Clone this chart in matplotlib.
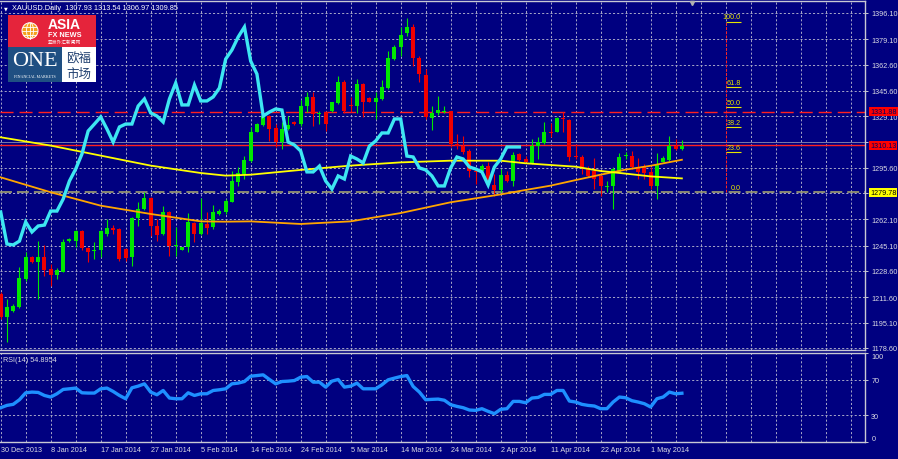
import matplotlib
matplotlib.use("Agg")
import matplotlib.pyplot as plt
from matplotlib.patches import Rectangle, Circle, Ellipse
from matplotlib.transforms import blended_transform_factory

# --- Data (XAUUSD daily, 30 Dec 2013 - 6 May 2014) ---
opens = [1213.7, 1198.5, 1202.9, 1205.0, 1223.4, 1237.5, 1234.2, 1237.9, 1229.9, 1226.0,
         1228.2, 1248.3, 1248.3, 1254.4, 1243.5, 1241.4, 1242.2, 1252.6, 1256.3, 1255.9,
         1242.9, 1237.5, 1262.8, 1268.9, 1275.8, 1258.0, 1252.6, 1266.7, 1244.6, 1242.5,
         1244.0, 1259.8, 1252.6, 1259.1, 1257.0, 1265.6, 1266.7, 1273.6, 1286.6, 1291.6,
         1300.2, 1319.0, 1323.4, 1329.0, 1321.2, 1312.1, 1320.8, 1325.5, 1324.0, 1335.5,
         1341.3, 1330.3, 1332.0, 1332.2, 1337.7, 1351.1, 1336.4, 1335.9, 1350.0, 1340.7,
         1338.1, 1340.3, 1347.4, 1366.2, 1373.8, 1382.9, 1387.2, 1366.7, 1355.8, 1327.7,
         1331.2, 1331.6, 1332.2, 1311.0, 1309.9, 1306.7, 1293.7, 1293.7, 1296.5, 1284.4,
         1281.3, 1290.9, 1287.2, 1304.5, 1301.3, 1298.7, 1309.9, 1311.6, 1318.6, 1319.0,
         1328.1, 1326.8, 1303.0, 1302.3, 1294.8, 1293.7, 1290.4, 1282.9, 1283.5, 1293.0,
         1303.0, 1303.4, 1295.8, 1295.8, 1292.6, 1283.9, 1299.5, 1300.8, 1309.9, 1307.93]
highs = [1214.8, 1210.4, 1207.2, 1231.0, 1240.7, 1238.6, 1248.3, 1245.5, 1233.2, 1230.3,
         1249.4, 1249.8, 1255.2, 1255.2, 1244.0, 1247.2, 1255.2, 1262.4, 1258.5, 1256.3,
         1243.3, 1263.5, 1273.2, 1279.7, 1276.4, 1262.4, 1270.6, 1267.6, 1257.0, 1244.4,
         1266.1, 1260.6, 1276.0, 1267.1, 1271.5, 1268.9, 1275.4, 1293.8, 1296.4, 1303.5,
         1321.9, 1324.5, 1331.6, 1329.9, 1324.0, 1325.1, 1329.0, 1326.0, 1339.8, 1344.6,
         1344.6, 1332.7, 1332.7, 1338.5, 1355.4, 1352.6, 1341.3, 1353.2, 1350.6, 1341.3,
         1344.6, 1352.8, 1371.6, 1375.3, 1386.8, 1392.6, 1389.0, 1368.4, 1359.7, 1335.9,
         1342.4, 1335.5, 1332.7, 1317.5, 1316.0, 1307.7, 1294.8, 1298.0, 1299.1, 1291.5,
         1294.8, 1293.7, 1305.6, 1305.1, 1303.0, 1314.2, 1315.3, 1325.1, 1324.4, 1328.3,
         1331.6, 1327.2, 1311.0, 1303.8, 1296.5, 1301.9, 1290.9, 1287.2, 1295.8, 1305.1,
         1305.6, 1306.7, 1301.7, 1298.0, 1295.8, 1305.1, 1303.0, 1316.0, 1314.2, 1313.54]
lows = [1197.4, 1182.3, 1201.8, 1204.5, 1222.3, 1233.8, 1210.4, 1225.6, 1218.7, 1223.4,
        1227.7, 1247.7, 1244.0, 1242.5, 1234.2, 1236.4, 1237.5, 1251.6, 1252.6, 1235.3,
        1235.3, 1232.1, 1258.0, 1268.4, 1251.6, 1248.3, 1252.0, 1238.1, 1238.6, 1242.2,
        1240.7, 1247.2, 1252.0, 1252.6, 1255.9, 1265.2, 1265.6, 1273.2, 1284.0, 1288.3,
        1299.1, 1318.6, 1322.5, 1313.2, 1308.9, 1307.8, 1320.3, 1323.4, 1322.9, 1331.6,
        1322.5, 1324.0, 1319.7, 1331.6, 1337.0, 1331.2, 1331.6, 1331.2, 1328.4, 1338.1,
        1327.3, 1339.8, 1346.8, 1365.8, 1368.4, 1381.4, 1361.9, 1351.1, 1327.3, 1320.3,
        1329.9, 1331.2, 1308.9, 1307.7, 1304.5, 1289.3, 1285.0, 1292.6, 1283.9, 1277.4,
        1279.6, 1286.1, 1283.9, 1300.2, 1299.1, 1298.0, 1301.3, 1311.0, 1315.3, 1318.6,
        1318.6, 1300.2, 1301.3, 1291.5, 1289.3, 1281.8, 1277.4, 1279.6, 1268.8, 1292.6,
        1301.3, 1294.8, 1288.3, 1288.3, 1281.8, 1275.3, 1299.1, 1300.2, 1307.3, 1306.97]
closes = [1198.5, 1205.0, 1206.1, 1224.1, 1237.5, 1234.2, 1237.9, 1229.5, 1226.0, 1229.0,
          1247.7, 1249.4, 1254.4, 1243.3, 1241.2, 1242.5, 1254.4, 1256.5, 1255.2, 1236.4,
          1236.8, 1262.8, 1268.9, 1275.8, 1258.0, 1252.0, 1266.7, 1245.1, 1245.5, 1244.0,
          1260.2, 1252.6, 1259.6, 1256.3, 1267.1, 1267.8, 1274.3, 1287.3, 1292.2, 1300.9,
          1319.0, 1323.8, 1329.4, 1320.8, 1312.1, 1320.8, 1323.6, 1323.8, 1335.5, 1341.3,
          1330.5, 1331.2, 1324.0, 1338.1, 1351.1, 1332.7, 1335.9, 1350.0, 1338.1, 1338.5,
          1340.7, 1347.8, 1366.7, 1374.2, 1381.8, 1387.2, 1366.7, 1356.5, 1328.4, 1331.2,
          1333.3, 1332.7, 1311.0, 1309.9, 1305.6, 1293.7, 1292.6, 1296.5, 1287.2, 1281.3,
          1290.9, 1287.2, 1303.8, 1300.8, 1299.5, 1309.9, 1312.5, 1318.6, 1318.1, 1327.7,
          1327.2, 1302.3, 1302.3, 1295.8, 1290.4, 1288.3, 1283.5, 1283.5, 1294.8, 1302.3,
          1303.4, 1295.8, 1292.6, 1292.2, 1283.9, 1298.0, 1301.7, 1309.9, 1307.7, 1309.85]

# overlay symbol drawn in cyan on the price scale
cyan_line = [1266.9, 1246.1, 1245.5, 1248.0, 1260.4, 1253.9, 1257.8, 1258.4, 1267.5, 1267.5,
             1275.3, 1287.0, 1294.8, 1304.5, 1319.5, 1324.0, 1328.6, 1320.8, 1312.3, 1322.1,
             1324.0, 1324.0, 1335.7, 1340.3, 1331.2, 1329.2, 1325.3, 1340.3, 1350.6, 1336.4,
             1336.4, 1349.3, 1339.0, 1339.0, 1341.6, 1347.4, 1366.2, 1372.1, 1380.5, 1387.0,
             1364.9, 1356.5, 1329.2, 1331.8, 1333.8, 1333.1, 1312.3, 1310.4, 1306.5, 1292.9,
             1292.9, 1296.7, 1287.0, 1281.8, 1290.3, 1288.3, 1303.2, 1301.3, 1298.7, 1309.7,
             1313.0, 1318.2, 1318.2, 1327.3, 1327.3, 1303.2, 1302.6, 1295.5, 1294.2, 1290.3,
             1283.8, 1283.8, 1295.5, 1302.6, 1301.3, 1296.1, 1294.8, 1292.9, 1284.4, 1296.1,
             1301.3, 1309.1, 1309.1, 1309.1]

# moving averages, read at these bars
ma_bars = [0, 8, 16, 24, 32, 36, 40, 48, 56, 64, 72, 80, 84, 88, 92, 96, 100, 104, 109]
ma_yellow = [1315.4, 1310.0, 1303.5, 1297.0, 1292.2, 1290.5, 1291.1, 1294.2, 1297.0, 1299.1,
             1300.2, 1300.2, 1298.5, 1297.4, 1296.3, 1293.5, 1291.8, 1290.0, 1288.7]
ma_orange = [1289.4, 1279.7, 1271.0, 1265.6, 1260.8, 1260.6, 1260.8, 1259.1, 1260.8, 1266.2,
             1273.2, 1278.3, 1281.2, 1284.0, 1287.6, 1291.1, 1294.4, 1296.9, 1300.8]

rsi = [38.6, 41.2, 42.4, 47.6, 55.4, 56.2, 55.8, 52.4, 50.6, 54.3,
       59.2, 59.9, 60.7, 55.4, 55.1, 55.1, 59.9, 60.7, 56.9, 52.4,
       48.7, 61.0, 62.9, 65.5, 56.2, 53.2, 58.0, 49.5, 48.7, 48.7,
       55.4, 52.4, 54.3, 54.3, 58.0, 58.8, 59.9, 65.5, 66.3, 68.1,
       74.1, 74.8, 75.6, 70.4, 65.5, 68.1, 68.5, 69.2, 73.0, 73.7,
       67.4, 67.4, 61.8, 68.5, 70.4, 61.8, 62.9, 66.3, 59.9, 59.9,
       59.9, 64.4, 70.0, 71.9, 73.7, 74.8, 62.5, 56.2, 47.6, 48.0,
       48.3, 47.0, 42.0, 40.1, 38.6, 36.0, 35.6, 37.5, 34.5, 31.9,
       36.8, 37.5, 45.7, 45.7, 44.2, 49.5, 50.2, 53.6, 53.6, 58.0,
       58.0, 46.1, 45.0, 42.4, 41.2, 40.5, 37.5, 37.5, 45.0, 50.6,
       49.8, 46.5, 45.0, 43.1, 39.4, 48.7, 50.6, 56.2, 54.3, 54.9]
rsi_levels = [30, 70]
rsi_ticks = [0, 30, 70, 100]

price_ticks = [1396.10, 1379.10, 1362.60, 1345.60, 1329.10, 1312.10, 1295.60, 1279.10,
               1262.10, 1245.10, 1228.60, 1211.60, 1195.10, 1178.60]
# these two scale labels sit under the price boxes and are not visible
hidden_ticks = [1312.10, 1279.10]
date_labels = ["30 Dec 2013", "8 Jan 2014", "17 Jan 2014", "27 Jan 2014", "5 Feb 2014",
               "14 Feb 2014", "24 Feb 2014", "5 Mar 2014", "14 Mar 2014", "24 Mar 2014",
               "2 Apr 2014", "11 Apr 2014", "22 Apr 2014", "1 May 2014"]
label_every = 8
grid_every = 4

level_dash = 1331.88
level_solid = 1310.13
fib_low = 1279.78
fib_high = 1390.5
fib_levels = [0.0, 23.6, 38.2, 50.0, 61.8, 100.0]
fib_bar = 116

header = "XAUUSD.Daily  1307.93 1313.54 1306.97 1309.85"
rsi_title = "RSI(14) 54.8954"

# --- Style ---
plt.rcParams['lines.scale_dashes'] = False
plt.rcParams['font.family'] = ['Liberation Sans', 'DejaVu Sans']
BG = '#000080'
GRID = '#a8a8c8'
SPINE = '#c8c8d4'
TXT = '#dcdce4'
BULL = '#00e800'
BEAR = '#f00000'
FS = 5.2

W, H = 898, 460
fig = plt.figure(figsize=(W / 100, H / 100), dpi=100, facecolor=BG)


def px_axes(x0, y0, x1, y1):
    # pixel box with y measured from the top
    return fig.add_axes([x0 / W, 1 - y1 / H, (x1 - x0) / W, (y1 - y0) / H])


ax = px_axes(0, 2, 865, 351)
ax_rsi = px_axes(0, 354, 865, 443)
xmax = 138.3
n = len(closes)
bars = list(range(n))
grid_x = list(range(0, int(xmax) + 1, grid_every))

# --- Price panel ---
ax.set_facecolor(BG)
ax.set_xlim(-0.11, xmax)
ax.set_ylim(1177.27, 1403.89)

colors = [BULL if c >= o else BEAR for o, c in zip(opens, closes)]
ax.vlines(bars, lows, highs, colors=colors, lw=0.8, zorder=3)
bottoms = [min(o, c) for o, c in zip(opens, closes)]
heights = [max(abs(c - o), 0.7) for o, c in zip(opens, closes)]
ax.bar(bars, heights, bottom=bottoms, width=0.62, color=colors, lw=0, zorder=3)

ax.plot(ma_bars, ma_orange, color='#ffa500', lw=1.3, zorder=4)
ax.plot(ma_bars, ma_yellow, color='#ffff00', lw=1.3, zorder=4)
ax.plot(range(len(cyan_line)), cyan_line, color='#3ee6f2', lw=2.4, zorder=5,
        solid_joinstyle='miter')

ax.axhline(level_dash, color='#ff2020', lw=1.0, dashes=(9.4, 4.3), zorder=2)
ax.axhline(1312.10, color='#7878a8', lw=0.7, zorder=2)
ax.axhline(level_solid, color='#ff2020', lw=1.0, zorder=2)
ax.axhline(fib_low, color='#a0a070', lw=1.2, dashes=(8.6, 3.6), zorder=2)

# fibonacci retracement
fib_rng = fib_high - fib_low
ax.vlines(fib_bar, fib_low, fib_high, colors='#ff2020', lw=0.7,
          linestyles=(0, (2, 1)), zorder=2)
for lv in fib_levels:
    p = fib_low + lv / 100 * fib_rng
    if lv > 0:
        ax.hlines(p, fib_bar, fib_bar + 2.4, colors='#e6e600', lw=0.8, zorder=3)
    ax.text(fib_bar + 2.4, p + 0.8, f"{lv:.1f}", color='#e6e600', fontsize=FS,
            ha='right', va='bottom', zorder=6)

ax.set_yticks(price_ticks)
ax.set_yticklabels(["" if t in hidden_ticks else f"{t:.2f}" for t in price_ticks])
ax.yaxis.tick_right()
ax.tick_params(axis='y', length=2.5, width=0.7, color=SPINE, labelcolor=TXT,
               labelsize=FS, pad=2)
ax.set_xticks(grid_x)
ax.tick_params(axis='x', length=0, labelbottom=False)
ax.grid(True, color=GRID, lw=0.7, linestyle=(0, (1.5, 1.5)), zorder=1)
ax.set_axisbelow(True)

for side, sp in ax.spines.items():
    sp.set_color(SPINE)
    sp.set_linewidth(1.0)
ax.spines['left'].set_visible(False)

# price boxes on the right scale
tr = blended_transform_factory(ax.transAxes, ax.transData)
for val, fc, tc in [(level_dash, '#ff0000', '#000060'),
                    (level_solid, '#ff0000', '#000060'),
                    (fib_low, '#ffff00', '#000000')]:
    ax.text(870 / 865, val, f"{val:.2f}", transform=tr, color=tc, fontsize=FS,
            ha='left', va='center', clip_on=False, zorder=10,
            bbox=dict(boxstyle='square,pad=0.14', fc=fc, ec='none'))

# --- RSI panel ---
ax_rsi.set_facecolor(BG)
ax_rsi.set_xlim(-0.11, xmax)
ax_rsi.set_ylim(0.5, 100.2)
ax_rsi.plot(bars, rsi, color='#1e90ff', lw=2.4, zorder=4)
for lv in rsi_levels:
    ax_rsi.axhline(lv, color=GRID, lw=0.7, linestyle=(0, (1.5, 1.5)), zorder=1)

ax_rsi.set_xticks(grid_x)
xt = []
for b in grid_x:
    k = b // label_every
    xt.append(date_labels[k] if b % label_every == 0 and k < len(date_labels) else "")
ax_rsi.set_xticklabels(xt)
ax_rsi.tick_params(axis='x', length=0, labelcolor=TXT, labelsize=FS, pad=3)
for lbl in ax_rsi.get_xticklabels():
    lbl.set_horizontalalignment('left')
ax_rsi.grid(True, axis='x', color=GRID, lw=0.7, linestyle=(0, (1.5, 1.5)), zorder=1)

ax_rsi.set_yticks(rsi_ticks)
ax_rsi.set_yticklabels([str(t) for t in rsi_ticks])
ax_rsi.yaxis.tick_right()
ax_rsi.tick_params(axis='y', length=2.5, width=0.7, color=SPINE, labelcolor=TXT,
                   labelsize=FS, pad=2)
ylbls = ax_rsi.get_yticklabels()
ylbls[0].set_verticalalignment('bottom')
ylbls[-1].set_verticalalignment('top')
for side, sp in ax_rsi.spines.items():
    sp.set_color(SPINE)
    sp.set_linewidth(1.0)
ax_rsi.spines['left'].set_visible(False)

# --- Overlay: header text and logo, in pixel units ---
ov = fig.add_axes([0, 0, 1, 1])
ov.set_xlim(0, W)
ov.set_ylim(H, 0)
ov.axis('off')

ov.text(4, 8.5, "\u25bc", color='white', fontsize=3.5, ha='left', va='center',
        family=['DejaVu Sans'])
ov.text(11.5, 8.5, header, color='white', fontsize=5.3, ha='left', va='center')
ov.text(3, 360.5, rsi_title, color=TXT, fontsize=FS, ha='left', va='center')
ov.plot([692], [3.5], marker='v', ms=3, color='#b0b0b0', lw=0)

ov.add_patch(Rectangle((8.3, 16), 87.7, 32.3, fc='#e5243b', ec='none'))
ov.add_patch(Rectangle((8.3, 48.3), 53.7, 34.4, fc='#1f4f82', ec='none'))
ov.add_patch(Rectangle((62, 48.3), 34, 34.4, fc='white', ec='none'))

globe = Circle((30, 31.7), 8, fc='#f4a11d', ec='white', lw=0.7)
ov.add_patch(globe)
mer = Ellipse((30, 31.7), 7, 16, fill=False, ec='white', lw=0.6)
ov.add_patch(mer)
mer.set_clip_path(globe)
for gy in (27.5, 31.7, 35.9):
    ln, = ov.plot([21, 39], [gy, gy], color='white', lw=0.6)
    ln.set_clip_path(globe)
ov.plot([30, 30], [23.7, 39.7], color='white', lw=0.6)

ov.text(47.5, 25, "ASIA", color='white', fontsize=10, fontweight='bold',
        ha='left', va='center')
ov.text(48, 35.3, "FX NEWS", color='white', fontsize=5.3, fontweight='bold',
        ha='left', va='center')
ov.text(48, 42.3, "亚洲外汇新闻网", color='white', fontsize=3.4, ha='left', va='center',
        family=['Noto Sans CJK SC'])
ov.text(35, 62, "ONE", color='white', fontsize=16, ha='center', va='center',
        family=['Liberation Serif'])
ov.text(35, 77, "FINANCIAL MARKETS", color='white', fontsize=2.9, ha='center',
        va='center', family=['Liberation Serif'])
ov.text(79, 59.5, "欧福", color='#1f3f6f', fontsize=9, ha='center', va='center',
        family=['Noto Sans CJK SC'])
ov.text(79, 74, "市场", color='#1f3f6f', fontsize=9, ha='center', va='center',
        family=['Noto Sans CJK SC'])

fig.savefig("out.png", dpi=100, facecolor=BG)
